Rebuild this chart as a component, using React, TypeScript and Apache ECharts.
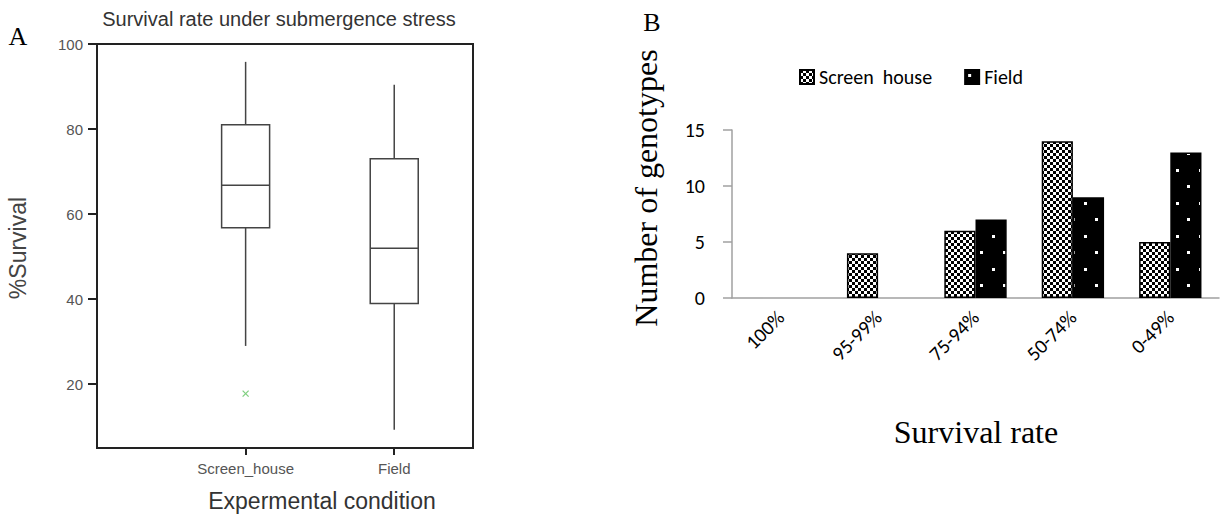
import React, { useEffect, useRef } from "react";
import * as echarts from "echarts";

// ---------- Panel A: box plot ----------
const boxCategories = ["Screen_house", "Field"];
const boxPositions = [1, 2];
// [lower whisker, Q1, median, Q3, upper whisker]
const screenHouseStats = [29, 56.8, 66.8, 81, 95.8];
const fieldStats = [9.3, 39, 52, 73, 90.4];
const outlierPoints = [[1, 17.8]];
const leftYTicks = [20, 40, 60, 80, 100];

// ---------- Panel B: bar chart ----------
const rateCategories = ["100%", "95-99%", "75-94%", "50-74%", "0-49%"];
const screenHouseCounts = [0, 4, 6, 14, 5];
const fieldCounts = [0, 0, 7, 9, 13];

const SANS = "'Liberation Sans', Arial, sans-serif";
const CAL = "Carlito, Lato, 'Open Sans', sans-serif";
const SERIF = "'Liberation Serif', 'Times New Roman', serif";

function checkerCanvas() {
  const c = document.createElement("canvas");
  c.width = 6;
  c.height = 6;
  const ctx = c.getContext("2d")!;
  ctx.fillStyle = "#fff";
  ctx.fillRect(0, 0, 6, 6);
  ctx.fillStyle = "#000";
  ctx.fillRect(0, 0, 3, 3);
  ctx.fillRect(3, 3, 3, 3);
  return c;
}

function dotCanvas() {
  const c = document.createElement("canvas");
  c.width = 23;
  c.height = 33;
  const ctx = c.getContext("2d")!;
  ctx.fillStyle = "#000";
  ctx.fillRect(0, 0, 23, 33);
  ctx.fillStyle = "#fff";
  ctx.fillRect(3, 4, 3, 3);
  ctx.fillRect(14, 20, 3, 3);
  return c;
}

function txt(text: string, x: number, y: number, font: string, fill: string, rotation = 0) {
  return {
    type: "text",
    x,
    y,
    rotation,
    style: {
      text,
      fill,
      font,
      align: "center",
      verticalAlign: "middle",
      textAlign: "center",
      textVerticalAlign: "middle",
    },
  };
}

export default function App() {
  const ref = useRef<HTMLDivElement>(null);

  useEffect(() => {
    if (!ref.current) return;
    const chart = echarts.init(ref.current, undefined, { renderer: "svg" });

    const checker = { image: checkerCanvas(), repeat: "repeat", imageWidth: 6, imageHeight: 6 };
    const dots = { image: dotCanvas(), repeat: "repeat", imageWidth: 23, imageHeight: 33 };

    const boxData = [screenHouseStats, fieldStats].map((s, i) => [boxPositions[i], ...s]);

    const lineStyle = { stroke: "#444", lineWidth: 1.5, fill: "none" };

    const zeroAware = (arr: number[]) =>
      arr.map((v) => (v === 0 ? { value: v, itemStyle: { borderWidth: 0 } } : v));

    chart.setOption({
      animation: false,
      backgroundColor: "#fff",
      graphic: [
        txt("Survival rate under submergence stress", 279, 19, `20px ${SANS}`, "#333"),
        txt("A", 18, 36, `26px ${SERIF}`, "#000"),
        txt("B", 652, 22, `26px ${SERIF}`, "#000"),
        txt("%Survival", 18, 248, `23px ${SANS}`, "#444", Math.PI / 2),
        txt("Expermental condition", 322, 501, `23px ${SANS}`, "#333"),
        txt("Number of genotypes", 646, 188, `32px ${SERIF}`, "#000", Math.PI / 2),
        txt("Survival rate", 976, 432, `32px ${SERIF}`, "#000"),
      ],
      legend: {
        data: ["Screen  house", "Field"],
        left: 794,
        top: 62,
        itemWidth: 14,
        itemHeight: 14,
        itemGap: 32,
        icon: "rect",
        textStyle: { fontSize: 20, fontFamily: CAL, color: "#000" },
      },
      grid: [
        {
          left: 97,
          top: 44,
          width: 376,
          height: 404,
          show: true,
          borderColor: "#222",
          borderWidth: 2,
          backgroundColor: "transparent",
        },
        { left: 732, top: 130, width: 487, height: 168 },
      ],
      xAxis: [
        {
          type: "value",
          gridIndex: 0,
          min: 0,
          max: 2.53,
          axisLine: { show: true, lineStyle: { color: "#222", width: 2 } },
          axisTick: { show: true, length: 7, customValues: boxPositions, lineStyle: { color: "#222", width: 2 } },
          axisLabel: {
            customValues: boxPositions,
            formatter: (v: number) => boxCategories[Math.round(v) - 1] ?? "",
            fontSize: 15,
            fontFamily: SANS,
            color: "#555",
            margin: 13,
          },
          splitLine: { show: false },
        },
        {
          type: "category",
          gridIndex: 1,
          data: rateCategories,
          axisLine: { show: true, lineStyle: { color: "#a0a0a0", width: 1.5 } },
          axisTick: { show: false },
          axisLabel: {
            rotate: 45,
            interval: 0,
            fontSize: 20,
            fontFamily: CAL,
            color: "#000",
            margin: 16,
          },
        },
      ],
      yAxis: [
        {
          type: "value",
          gridIndex: 0,
          min: 5,
          max: 100,
          axisLine: { show: true, lineStyle: { color: "#222", width: 2 } },
          axisTick: { show: true, length: 9, customValues: leftYTicks, lineStyle: { color: "#222", width: 2 } },
          axisLabel: {
            customValues: leftYTicks,
            fontSize: 15,
            fontFamily: SANS,
            color: "#555",
            margin: 14,
          },
          splitLine: { show: false },
        },
        {
          type: "value",
          gridIndex: 1,
          min: 0,
          max: 15,
          interval: 5,
          axisLine: { show: true, lineStyle: { color: "#a0a0a0", width: 1.5 } },
          axisTick: { show: true, length: 9, lineStyle: { color: "#a0a0a0", width: 1.5 } },
          axisLabel: { fontSize: 20, fontFamily: CAL, color: "#000", margin: 27 },
          splitLine: { show: false },
        },
      ],
      series: [
        {
          type: "custom",
          xAxisIndex: 0,
          yAxisIndex: 0,
          data: boxData,
          encode: { x: 0, y: [1, 2, 3, 4, 5] },
          renderItem: (_params: any, api: any) => {
            const x = api.value(0);
            const lo = api.coord([x, api.value(1)]);
            const q1 = api.coord([x, api.value(2)]);
            const med = api.coord([x, api.value(3)]);
            const q3 = api.coord([x, api.value(4)]);
            const hi = api.coord([x, api.value(5)]);
            const hw = 24;
            return {
              type: "group",
              children: [
                { type: "line", shape: { x1: hi[0], y1: hi[1], x2: q3[0], y2: q3[1] }, style: lineStyle },
                { type: "line", shape: { x1: q1[0], y1: q1[1], x2: lo[0], y2: lo[1] }, style: lineStyle },
                {
                  type: "rect",
                  shape: { x: q3[0] - hw, y: q3[1], width: hw * 2, height: q1[1] - q3[1] },
                  style: { ...lineStyle, fill: "#fff" },
                },
                { type: "line", shape: { x1: med[0] - hw, y1: med[1], x2: med[0] + hw, y2: med[1] }, style: lineStyle },
              ],
            };
          },
        },
        {
          type: "custom",
          xAxisIndex: 0,
          yAxisIndex: 0,
          data: outlierPoints,
          encode: { x: 0, y: 1 },
          renderItem: (_params: any, api: any) => {
            const p = api.coord([api.value(0), api.value(1)]);
            const s = 3;
            const st = { stroke: "#7fcf7f", lineWidth: 1.2 };
            return {
              type: "group",
              children: [
                { type: "line", shape: { x1: p[0] - s, y1: p[1] - s, x2: p[0] + s, y2: p[1] + s }, style: st },
                { type: "line", shape: { x1: p[0] - s, y1: p[1] + s, x2: p[0] + s, y2: p[1] - s }, style: st },
              ],
            };
          },
        },
        {
          name: "Screen  house",
          type: "bar",
          xAxisIndex: 1,
          yAxisIndex: 1,
          data: zeroAware(screenHouseCounts),
          barGap: "0%",
          barCategoryGap: "36%",
          itemStyle: { color: checker, borderColor: "#000", borderWidth: 1.5 },
        },
        {
          name: "Field",
          type: "bar",
          xAxisIndex: 1,
          yAxisIndex: 1,
          data: zeroAware(fieldCounts),
          barGap: "0%",
          barCategoryGap: "36%",
          itemStyle: { color: dots, borderColor: "#000", borderWidth: 1.5 },
        },
      ],
    });

    return () => chart.dispose();
  }, []);

  return <div ref={ref} style={{ width: 1221, height: 516, position: "absolute", left: 0, top: 0 }} />;
}
